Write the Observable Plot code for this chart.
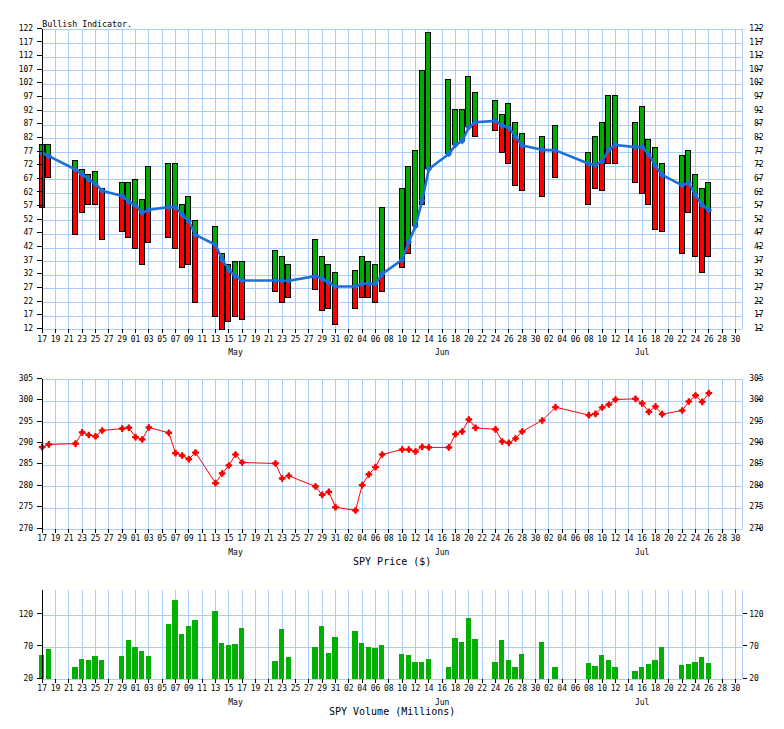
<!DOCTYPE html>
<html><head><meta charset="utf-8">
<script src="https://cdn.jsdelivr.net/npm/d3@7"></script>
<script src="https://cdn.jsdelivr.net/npm/@observablehq/plot@0.6"></script>
<style>
body{margin:0;background:#fff;}
#wrap{position:relative;width:784px;height:729px;overflow:hidden;background:#fff;}
#wrap svg{position:absolute;left:0;}
</style></head><body><div id="wrap"></div>
<script>
// ---- data ----
const dates = [
  "2019-04-17","2019-04-18","2019-04-22","2019-04-23","2019-04-24","2019-04-25","2019-04-26","2019-04-29","2019-04-30",
  "2019-05-01","2019-05-02","2019-05-03","2019-05-06","2019-05-07","2019-05-08","2019-05-09","2019-05-10","2019-05-13","2019-05-14",
  "2019-05-15","2019-05-16","2019-05-17","2019-05-22","2019-05-23","2019-05-24","2019-05-28","2019-05-29","2019-05-30","2019-05-31",
  "2019-06-03","2019-06-04","2019-06-05","2019-06-06","2019-06-07","2019-06-10","2019-06-11","2019-06-12","2019-06-13","2019-06-14",
  "2019-06-17","2019-06-18","2019-06-19","2019-06-20","2019-06-21","2019-06-24","2019-06-25","2019-06-26","2019-06-27","2019-06-28",
  "2019-07-01","2019-07-03","2019-07-08","2019-07-09","2019-07-10","2019-07-11","2019-07-12","2019-07-15","2019-07-16","2019-07-17",
  "2019-07-18","2019-07-19","2019-07-22","2019-07-23","2019-07-24","2019-07-25","2019-07-26"
];
const bullHigh = [
  79.8,79.8,74.0,70.7,68.8,69.9,63.6,65.9,65.9,
  67.0,59.7,71.8,72.9,72.9,57.8,60.8,52.0,49.8,39.9,
  35.8,36.8,36.8,41.0,38.6,35.8,45.0,38.6,35.8,32.9,
  33.6,38.6,36.8,35.8,56.7,63.7,71.8,77.6,107.0,120.9,
  103.7,92.7,92.7,104.8,98.9,96.0,90.8,94.9,87.9,83.9,
  82.8,86.8,76.9,82.8,87.9,97.8,97.8,87.9,93.8,81.7,
  78.8,72.9,75.8,77.6,68.8,63.7,65.9
];
const bullMid = [
  76.8,75.7,70.8,69.0,67.0,65.5,63.0,61.1,58.9,
  57.6,54.9,56.0,57.0,57.0,54.2,51.8,46.8,43.2,37.7,
  34.0,31.7,30.1,30.1,30.0,30.0,31.7,30.7,29.2,27.9,
  27.9,28.9,28.9,28.9,32.5,37.7,44.3,50.0,59.4,71.0,
  76.5,79.8,81.2,86.3,88.1,88.6,86.9,86.1,82.9,79.6,
  78.0,77.8,72.9,72.5,73.8,78.0,79.8,79.0,79.0,76.3,
  72.1,68.8,65.0,65.9,61.5,57.7,55.9
];
const bullLow = [
  56.7,67.7,46.8,54.9,57.8,57.8,45.0,47.9,45.6,
  41.7,35.8,43.9,45.6,41.7,34.7,35.8,21.9,16.8,12.0,
  14.9,16.8,15.7,25.8,21.9,23.7,26.7,19.0,19.7,13.8,
  19.7,23.7,23.7,21.9,25.8,34.7,39.9,50.0,57.8,71.0,
  76.5,79.8,81.2,86.3,82.8,85.0,76.9,72.9,64.8,63.0,
  60.8,67.7,57.8,63.7,63.0,72.9,72.9,65.9,61.9,57.8,
  48.6,47.9,39.9,54.9,38.8,32.9,38.8
];
const price = [
  289.25,289.9,290.1,292.7,292.1,291.8,293.15,293.6,293.8,
  291.6,291.05,293.85,292.6,287.85,287.3,286.45,288.0,280.85,283.1,
  284.97,287.54,285.67,285.44,281.93,282.55,280.06,278.1,278.8,275.23,
  274.45,280.37,282.87,284.58,287.54,288.71,288.7,288.24,289.33,289.2,
  289.2,292.3,292.92,295.73,293.78,293.4,290.58,290.27,291.28,292.92,
  295.49,298.61,296.74,297.05,298.53,299.23,300.4,300.56,299.47,297.52,
  298.76,296.97,297.83,299.93,301.34,299.86,301.88
];
const volume = [
  57.5,66.9,38.7,51,49.7,56,49.7,56,81,
  70,63.8,56,106,143,90.3,102.8,112,126,76,
  73,74.7,99.7,48,98,54.4,70,102.8,60.6,85.6,
  95,76,70,68.4,73,59,57.5,46.6,46.6,51,
  38.7,84,77.8,115,82.5,46.6,81,49.7,38.7,59,
  77.8,38.7,45,40.3,57.5,49.7,38.7,32.5,38.7,43.4,
  49.7,70,41.9,43.4,46.6,54.4,45
];
const bullTicks = [12,17,22,27,32,37,42,47,52,57,62,67,72,77,82,87,92,97,102,107,112,117,122];
const priceTicks = [270,275,280,285,290,295,300,305];
const volTicks = [20,70,120];
const monthLabels = ["May","Jun","Jul"];
const monthDates = ["2019-05-16","2019-06-16","2019-07-16"];
const xStart = "2019-04-17", xEnd = "2019-07-31";
const titleTop = "Bullish Indicator.";
const titlePrice = "SPY Price ($)";
const titleVol = "SPY Volume (Millions)";

// ---- build ----
const rows = dates.map((d, i) => ({date: new Date(d), hi: bullHigh[i], mid: bullMid[i], lo: bullLow[i], price: price[i], vol: volume[i]}));
const x0 = new Date(xStart), x1 = new Date(xEnd);
const xTicks = d3.utcDay.range(x0, x1, 2);
const months = monthDates.map((d, i) => ({d: new Date(d), t: monthLabels[i]}));
const HOUR = 3600e3;
const grid = "#aaccff";
const green = "#00aa00", red = "#ff0000", blue = "#1a6fd8";
const font = "'DejaVu Sans Mono', monospace";
const ML = 41.67, MR = 42.33, W = 784;
const crisp = "crispEdges";

function frameMarks(yTicks) {
  return [
    Plot.ruleX(xTicks, {stroke: grid, strokeWidth: 1, shapeRendering: crisp}),
    Plot.ruleY(yTicks, {stroke: grid, strokeWidth: 1, shapeRendering: crisp}),
    Plot.ruleX([x1], {stroke: grid, strokeWidth: 1, shapeRendering: crisp})
  ];
}
function axisMarks(yTicks, rightAlign) {
  return [
    Plot.ruleX([x0], {stroke: "black", strokeWidth: 1, shapeRendering: crisp}),
    Plot.axisX(xTicks, {anchor: "bottom", tickSize: 4, tickPadding: 2, tickFormat: d3.utcFormat("%d"), label: null, fontSize: 8, shapeRendering: crisp}),
    Plot.text(months, {x: "d", text: "t", frameAnchor: "bottom", lineAnchor: "middle", dy: 23, fontSize: 8}),
    Plot.axisY(yTicks, {anchor: "left", tickSize: 5, tickPadding: 4, label: null, fontSize: 8, dy: -1.5, shapeRendering: crisp}),
    rightAlign
      ? Plot.axisY(yTicks, {anchor: "right", tickSize: 4, tickPadding: 3, textAnchor: "end", dx: 14.5, label: null, fontSize: 8, dy: -1.5, shapeRendering: crisp})
      : Plot.axisY(yTicks, {anchor: "right", tickSize: 4, tickPadding: 3, label: null, fontSize: 8, dy: -1.5, shapeRendering: crisp})
  ];
}
const baseStyle = {fontFamily: font, fontSize: "8px", background: "white", color: "black"};
const bx1 = d => new Date(+d.date - 9 * HOUR), bx2 = d => new Date(+d.date + 9 * HOUR);

// top panel
const panelTop = Plot.plot({
  width: W, height: 360, marginTop: 29.33, marginBottom: 30.67, marginLeft: ML, marginRight: MR,
  style: baseStyle,
  x: {type: "utc", domain: [x0, x1]},
  y: {domain: [12, 122]},
  marks: [
    ...frameMarks(bullTicks),
    Plot.rect(rows.filter(d => d.hi > d.mid), {x1: bx1, x2: bx2, y1: "mid", y2: "hi", fill: green, shapeRendering: crisp}),
    Plot.rect(rows.filter(d => d.mid > d.lo), {x1: bx1, x2: bx2, y1: "lo", y2: "mid", fill: red, shapeRendering: crisp}),
    Plot.rect(rows, {x1: bx1, x2: bx2, y1: "lo", y2: "hi", fill: "none", stroke: "black", strokeWidth: 1, shapeRendering: crisp}),
    Plot.line(rows, {x: "date", y: "mid", stroke: blue, strokeWidth: 2.6}),
    Plot.dot(rows, {x: "date", y: "mid", fill: blue, symbol: "diamond2", r: 3}),
    ...axisMarks(bullTicks, true),
    Plot.text([titleTop], {frameAnchor: "top-left", lineAnchor: "middle", dy: -5, dx: 0, textAnchor: "start", fontSize: 8.3})
  ]
});
panelTop.style.top = "0px";

// price panel
const panelPrice = Plot.plot({
  width: W, height: 210, marginTop: 19.33, marginBottom: 41, marginLeft: ML, marginRight: MR,
  style: baseStyle,
  x: {type: "utc", domain: [x0, x1]},
  y: {domain: [270, 305]},
  marks: [
    ...frameMarks(priceTicks),
    Plot.line(rows, {x: "date", y: "price", stroke: red, strokeWidth: 1}),
    Plot.dot(rows, {x: "date", y: "price", fill: red, symbol: "diamond2", r: 2.8}),
    Plot.dot(rows, {x: "date", y: "price", fill: red, symbol: "cross", r: 2.8}),
    ...axisMarks(priceTicks, true),
    Plot.text([titlePrice], {frameAnchor: "bottom", lineAnchor: "middle", dy: 32, fontSize: 10})
  ]
});
panelPrice.style.top = "360px";

// volume panel
const panelVol = Plot.plot({
  width: W, height: 159, marginTop: 20, marginBottom: 50, marginLeft: ML, marginRight: MR,
  style: baseStyle,
  x: {type: "utc", domain: [x0, x1]},
  y: {domain: [20, 159]},
  marks: [
    ...frameMarks(volTicks),
    Plot.rect(rows, {x1: d => new Date(+d.date - 9.5 * HOUR), x2: d => new Date(+d.date + 9.5 * HOUR), y1: volTicks[0], y2: "vol", fill: "#00b000", shapeRendering: crisp}),
    ...axisMarks(volTicks, false),
    Plot.text([titleVol], {frameAnchor: "bottom", lineAnchor: "middle", dy: 32.5, fontSize: 10})
  ]
});
panelVol.style.top = "570px";

document.getElementById("wrap").append(panelTop, panelPrice, panelVol);
</script>
</body></html>
